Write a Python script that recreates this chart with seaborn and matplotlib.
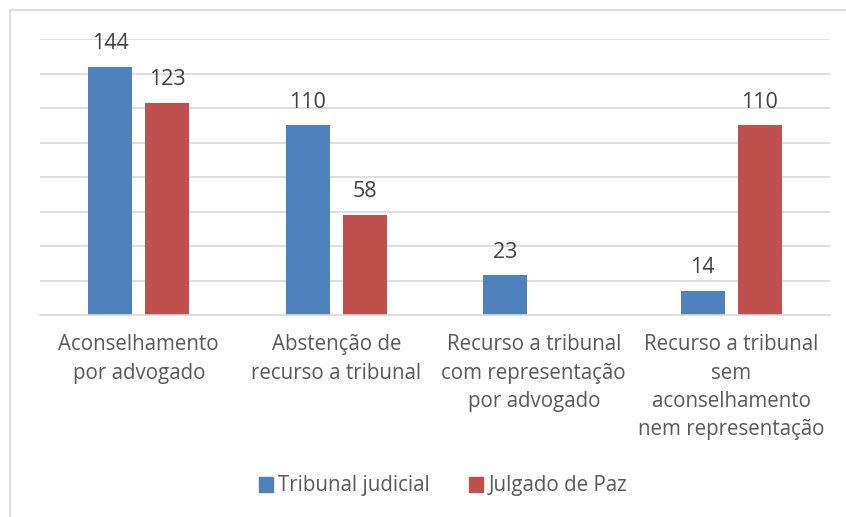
import matplotlib.pyplot as plt
import numpy as np
import pandas as pd
import seaborn as sns
from matplotlib.patches import Rectangle

# chart data
categories = [
    "Aconselhamento\npor advogado",
    "Abstenção de\nrecurso a tribunal",
    "Recurso a tribunal\ncom representação\npor advogado",
    "Recurso a tribunal\nsem\naconselhamento\nnem representação",
]
series = ["Tribunal judicial", "Julgado de Paz"]
tribunal_judicial = [144, 110, 23, 14]
julgado_de_paz = [123, 58, np.nan, 110]

colors = ["#4F81BD", "#C0504D"]

df = pd.DataFrame({
    "categoria": categories * 2,
    "serie": [series[0]] * 4 + [series[1]] * 4,
    "valor": tribunal_judicial + julgado_de_paz,
})

sns.set_style("white")
plt.rcParams["font.family"] = ["Open Sans", "DejaVu Sans"]

fig = plt.figure(figsize=(8.46, 5.17), dpi=100)
ax = fig.add_axes([40 / 846, 1 - 315 / 517, 790 / 846, 276 / 517])

sns.barplot(
    data=df, x="categoria", y="valor", hue="serie",
    palette=colors, width=0.578, gap=0.228, ax=ax, legend=False,
    saturation=1, linewidth=0,
)

for c in ax.containers:
    labels = ["" if np.isnan(v) else f"{v:.0f}" for v in c.datavalues]
    ax.bar_label(c, labels=labels, padding=9, fontsize=15.5, color="#404040")

ax.set_ylim(0, 160)
ax.set_xlim(-0.5, 3.5)
ax.set_yticks(range(20, 161, 20))
ax.set_yticklabels([])
ax.yaxis.grid(True, color="#D9D9D9", linewidth=1.2)
ax.set_axisbelow(True)
ax.tick_params(axis="y", length=0)
for s in ["top", "right", "left"]:
    ax.spines[s].set_visible(False)
ax.spines["bottom"].set_color("#D9D9D9")
ax.spines["bottom"].set_linewidth(1.2)

ax.set_xticks(range(4))
ax.set_xticklabels(categories, fontsize=14.8, color="#595959", linespacing=1.45, va="top")
ax.tick_params(axis="x", which="major", length=0, pad=14)
ax.set_xticks([-0.5, 0.5, 1.5, 2.5, 3.5], minor=True)
ax.tick_params(axis="x", which="minor", length=6, color="#D9D9D9", width=1.2)
ax.set_xlabel("")
ax.set_ylabel("")

handles = [Rectangle((0, 0), 1, 1, color=col) for col in colors]
fig.legend(handles, series, loc="center", bbox_to_anchor=(443 / 846, 1 - 486 / 517),
           ncol=2, frameon=False, fontsize=14.8, labelcolor="#595959",
           handlelength=0.7, handleheight=0.7, handletextpad=0.25, columnspacing=1.9)

# outer chart border
fig.add_artist(Rectangle((10 / 846, -0.1), 1.1, 1 - 10 / 517 + 0.1, transform=fig.transFigure,
                         fill=False, edgecolor="#D9D9D9", linewidth=1.2))

fig.savefig("out.png", dpi=100)
